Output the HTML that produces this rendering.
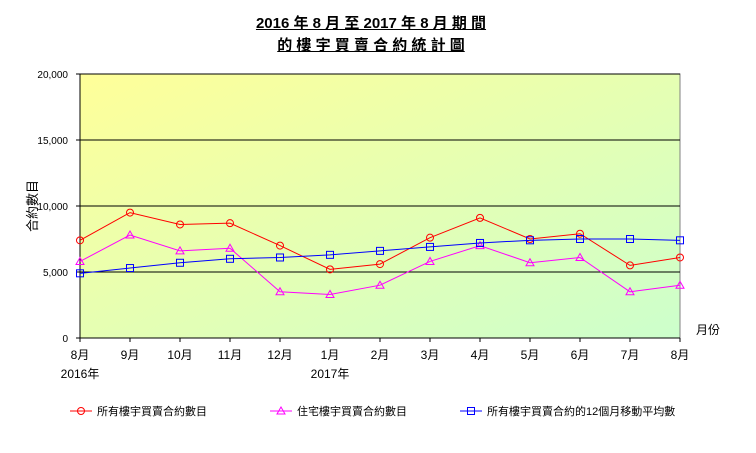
<!DOCTYPE html>
<html><head><meta charset="utf-8"><style>
body{margin:0;background:#fff;width:756px;height:453px;overflow:hidden;font-family:"Liberation Sans","Noto Sans CJK TC",sans-serif;}
.t{position:absolute;left:0;width:742px;text-align:center;font-weight:bold;font-size:15px;text-decoration:underline;}
</style></head><body>
<div class="t" style="top:12px;">2016 年 8 月 至 2017 年 8 月 期 間</div>
<div class="t" style="top:34px;">的 樓 宇 買 賣 合 約 統 計 圖</div>
<svg id="c" width="756" height="453" style="position:absolute;left:0;top:0">
<defs><linearGradient id="g" x1="0" y1="0" x2="1" y2="1"><stop offset="0" stop-color="#ffff99"/><stop offset="1" stop-color="#ccffcc"/></linearGradient></defs>
</svg>
<script>
const categories=["8月","9月","10月","11月","12月","1月","2月","3月","4月","5月","6月","7月","8月"];
const allUnits=[7400,9500,8600,8700,7000,5200,5600,7600,9100,7500,7900,5500,6100];
const residential=[5800,7800,6600,6800,3500,3300,4000,5800,7000,5700,6100,3500,4000];
const movingAvg=[4900,5300,5700,6000,6100,6300,6600,6900,7200,7400,7500,7500,7400];
const yTicks=[0,5000,10000,15000,20000];
const yTickLabels=["0","5,000","10,000","15,000","20,000"];
const NS="http://www.w3.org/2000/svg";
const svg=document.getElementById('c');
const L=80,R=680,T=74,B=338;
const x=i=>L+i*(R-L)/(categories.length-1);
const y=v=>B-v/20000*(B-T);
function mk(t,a,p){const e=document.createElementNS(NS,t);for(const k in a)e.setAttribute(k,a[k]);(p||svg).appendChild(e);return e;}
const bg=mk('rect',{x:L,y:T,width:R-L,height:B-T,fill:'url(#g)',stroke:'#808080'});


yTicks.forEach((v,i)=>{
 if(v>0){const gl=mk('line',{x1:L,x2:R,y1:y(v),y2:y(v),stroke:'#000','stroke-width':1});
 
 }
 mk('line',{x1:L-4,x2:L,y1:y(v),y2:y(v),stroke:'#000'});
 const t=mk('text',{x:L-12,y:y(v)+4,'text-anchor':'end','font-size':10});t.textContent=yTickLabels[i];
 
 
});
mk('line',{x1:L,x2:L,y1:T,y2:B,stroke:'#000'});
mk('line',{x1:L,x2:R,y1:B,y2:B,stroke:'#000'});
categories.forEach((c,i)=>{
 mk('line',{x1:x(i),x2:x(i),y1:B,y2:B+4,stroke:'#000'});
 const t=mk('text',{x:x(i),y:359,'text-anchor':'middle','font-size':12});t.textContent=c;
 
 
});
[["2016年",x(0)],["2017年",x(5)]].forEach(([s,xx])=>{const t=mk('text',{x:xx,y:378,'text-anchor':'middle','font-size':12});t.textContent=s;
 
 });
const xt=mk('text',{x:708,y:334,'text-anchor':'middle','font-size':12});xt.textContent="月份";


const yt=mk('text',{x:0,y:0,'text-anchor':'middle','font-size':13,transform:'translate(37,206) rotate(-90)'});yt.textContent="合約數目";


function marker(kind,cx,cy,col,g){
 if(kind==='c')return mk('circle',{cx,cy,r:3.5,fill:'none',stroke:col},g);
 if(kind==='t')return mk('polygon',{points:`${cx},${cy-4} ${cx-4},${cy+3} ${cx+4},${cy+3}`,fill:'none',stroke:col},g);
 return mk('rect',{x:cx-3.5,y:cy-3.5,width:7,height:7,fill:'none',stroke:col},g);
}
const series=[[allUnits,'#ff0000','c','series-all-units'],[residential,'#ff00ff','t','series-residential'],[movingAvg,'#0000ff','s','series-moving-average']];
series.forEach(([d,col,k,n])=>{
 const g=mk('g',{});
 
 
 mk('polyline',{points:d.map((v,i)=>x(i)+','+y(v)).join(' '),fill:'none',stroke:col,'stroke-width':1},g);
 d.forEach((v,i)=>{const m=marker(k,x(i),y(v),col,g);
  
  });
});
const legend=[["所有樓宇買賣合約數目",70,'#ff0000','c'],["住宅樓宇買賣合約數目",270,'#ff00ff','t'],["所有樓宇買賣合約的12個月移動平均數",460,'#0000ff','s']];
legend.forEach(([s,lx,col,k])=>{
 const g=mk('g',{});
 
 
 mk('line',{x1:lx,x2:lx+22,y1:411,y2:411,stroke:col},g);
 marker(k,lx+11,411,col,g);
 const t=mk('text',{x:lx+27,y:415,'font-size':11},g);t.textContent=s;
});
</script>
</body></html>
